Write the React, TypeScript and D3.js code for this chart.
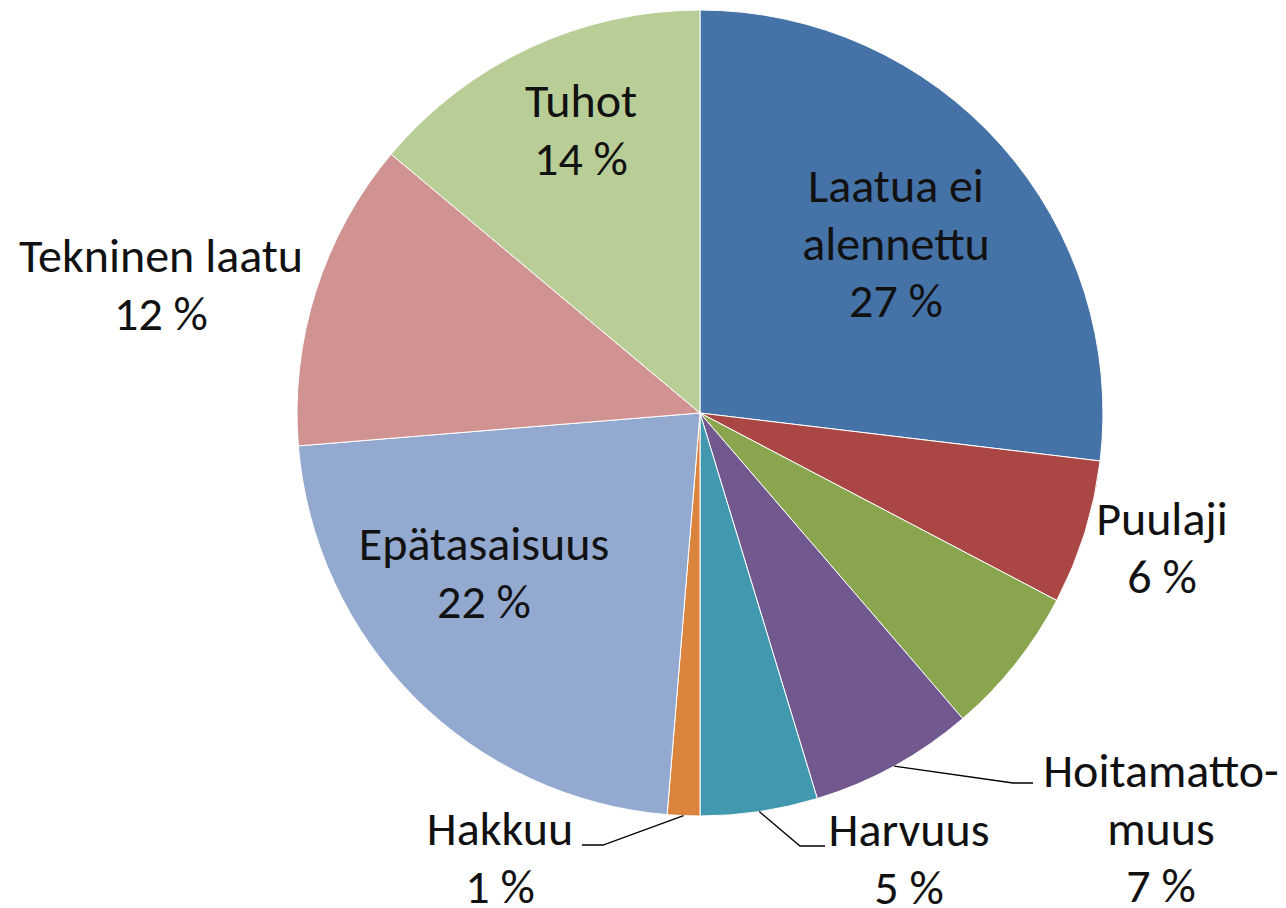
import React from "react";
import * as d3 from "d3";

const categories = [
  "Laatua ei alennettu",
  "Puulaji",
  "",
  "Hoitamattomuus",
  "Harvuus",
  "Hakkuu",
  "Epätasaisuus",
  "Tekninen laatu",
  "Tuhot",
];
const values = [26.9, 5.8, 6.0, 6.6, 4.7, 1.3, 22.4, 12.4, 13.9];
const labelLines = [
  ["Laatua ei", "alennettu"],
  ["Puulaji"],
  [],
  ["Hoitamatto-", "muus"],
  ["Harvuus"],
  ["Hakkuu"],
  ["Epätasaisuus"],
  ["Tekninen laatu"],
  ["Tuhot"],
];
const colors = [
  "#4572A7",
  "#AA4643",
  "#89A54E",
  "#71588F",
  "#4198AF",
  "#DB843D",
  "#93A9CF",
  "#D19392",
  "#B9CD96",
];

// label layout (pixel positions of first text line, and optional leader line)
type Lay = { x: number; y: number; leader?: { ex: number; ey: number; tx: number } };
const labelLayout: Lay[] = [
  { x: 896, y: 202 },
  { x: 1162, y: 535 },
  { x: 0, y: 0 },
  { x: 1161, y: 787, leader: { ex: 1013, ey: 783, tx: 1033 } },
  { x: 909, y: 846, leader: { ex: 800, ey: 846, tx: 825 } },
  { x: 500, y: 845, leader: { ex: 603, ey: 845, tx: 582 } },
  { x: 484, y: 560 },
  { x: 161, y: 272 },
  { x: 581, y: 117 },
];

const W = 1286;
const H = 908;
const cx = 700;
const cy = 413;
const R = 403;
const lineH = 57.5;
const fontSize = 48;

export default function App() {
  const total = d3.sum(values);
  const pie = d3
    .pie<number>()
    .sort(null)
    .value((d) => d)(values);
  const arc = d3.arc<d3.PieArcDatum<number>>().innerRadius(0).outerRadius(R);

  return (
    <div style={{ position: "absolute", left: 0, top: 0 }}>
      <svg width={W} height={H} style={{ display: "block", background: "#fff" }}>
        <g transform={`translate(${cx},${cy})`}>
          {pie.map((p, i) => (
            <path key={i} d={arc(p) || ""} fill={colors[i]} stroke="#fff" strokeWidth={1} />
          ))}
        </g>
        {pie.map((p, i) => {
          const lay = labelLayout[i];
          if (!categories[i] || !lay.leader) return null;
          const mid = (p.startAngle + p.endAngle) / 2;
          const sx = cx + R * Math.sin(mid);
          const sy = cy - R * Math.cos(mid);
          const { ex, ey, tx } = lay.leader;
          return (
            <polyline
              key={"l" + i}
              points={`${sx},${sy} ${ex},${ey} ${tx},${ey}`}
              fill="none"
              stroke="#000"
              strokeWidth={1.3}
            />
          );
        })}
        {pie.map((p, i) => {
          if (!categories[i]) return null;
          const lay = labelLayout[i];
          const pct = Math.round((values[i] / total) * 100);
          const lines = [...labelLines[i], `${pct} %`];
          return (
            <text
              key={"t" + i}
              x={lay.x}
              y={lay.y}
              textAnchor="middle"
              fontFamily="Carlito, Calibri, Lato, sans-serif"
              fontSize={fontSize}
              fill="#111"
            >
              {lines.map((ln, j) => (
                <tspan key={j} x={lay.x} y={lay.y + j * lineH}>
                  {ln}
                </tspan>
              ))}
            </text>
          );
        })}
      </svg>
    </div>
  );
}
